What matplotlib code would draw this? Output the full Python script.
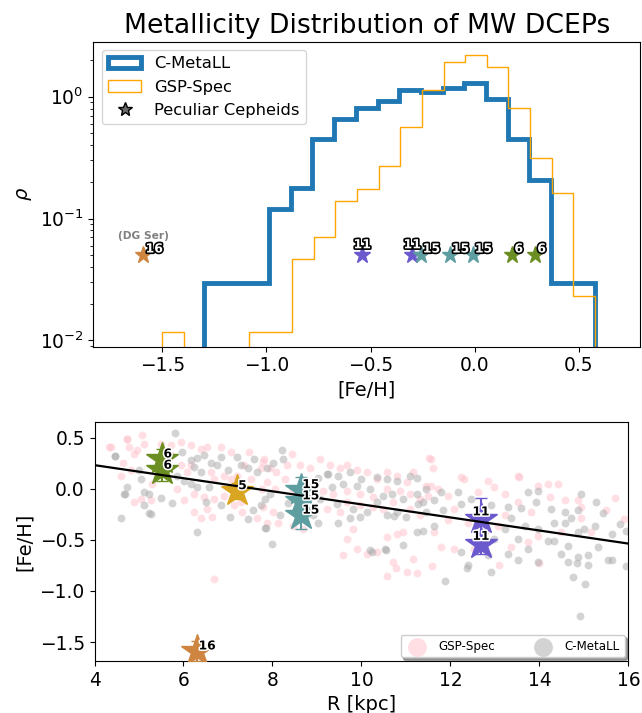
import numpy as np
import matplotlib
matplotlib.use("Agg")
import matplotlib.pyplot as plt
import matplotlib.patheffects as pe

# ---------------- data ----------------
# C-MetaLL histogram (counts per bin; density-normalised when drawn)
cm_range = (-1.30, 0.575)
cm_counts = [1, 1, 1, 4, 6, 15, 22, 27, 31, 38, 37, 40, 44, 32, 15, 7, 1, 1]
# GSP-Spec histogram
gsp_range = (-1.50, 0.577)
gsp_counts = [1, 0, 0, 0, 1, 1, 4, 6, 12, 15, 23, 48, 97, 165, 190, 150, 69, 27, 14, 2]

# Peculiar Cepheids
pec_labels = ['16', '11', '11', '15', '15', '15', '6', '6', '5']
pec_feh = [-1.59, -0.54, -0.30, -0.26, -0.12, -0.01, 0.18, 0.29, -0.02]
pec_R = [6.31, 12.69, 12.69, 8.64, 8.64, 8.64, 5.52, 5.52, 7.20]
pec_err = [0.10, 0.10, 0.21, 0.135, 0.10, 0.13, 0.10, 0.10, 0.08]
pec_colors = ['peru', 'slateblue', 'slateblue', 'cadetblue', 'cadetblue',
              'cadetblue', 'olivedrab', 'olivedrab', 'goldenrod']
pec_in_hist = [True, True, True, True, True, True, True, True, False]

# radial gradient fit
grad_slope = -0.064
grad_intercept = 0.488

# C-MetaLL sample (R [kpc], [Fe/H])
cm_R = [5.80, 4.45, 5.97, 6.16, 6.24, 6.31, 6.46, 6.39, 6.61, 6.76, 6.84, 6.99, 7.21, 7.29,
        7.44, 7.59, 7.66, 5.00, 5.04, 4.74, 4.66, 5.11, 5.23, 5.11, 5.23, 5.49, 5.74, 4.60,
        6.31, 6.31, 6.50, 6.57, 6.84, 7.05, 7.44, 7.57, 7.74, 7.83, 5.86, 6.01, 6.16,
        8.21, 8.24, 8.02, 7.87, 7.83, 7.94, 7.85, 7.98, 8.17, 9.03, 9.22, 9.48, 9.74, 10.00,
        10.34, 10.57, 10.79, 11.09, 11.24, 11.46, 9.33, 9.59, 9.89, 10.19, 10.49, 10.68, 10.94,
        11.24, 11.39, 9.07, 9.44, 9.82, 10.12, 10.34, 10.57, 10.79, 11.00, 11.28, 11.46, 9.03,
        9.48, 9.74, 9.97, 11.24, 11.39, 10.53, 10.19, 10.94, 8.92, 8.69,
        11.79, 11.64, 12.17, 12.24, 12.47, 12.92, 13.29, 13.59, 13.74, 13.97, 13.93, 14.27,
        14.57, 14.86, 14.94, 15.28, 11.64, 11.83, 13.22, 13.37, 13.52, 13.67, 13.97, 14.19,
        14.34, 14.57, 14.72, 14.86, 15.01, 15.24, 13.74, 14.34, 14.49, 14.64, 14.86, 15.09,
        15.31, 13.29, 12.84, 12.99, 12.24, 12.39, 13.52, 13.97, 14.64, 15.09,
        11.89, 12.38, 12.91, 14.75, 14.92, 15.03, 15.44, 15.54, 15.63, 15.63, 15.81, 15.95,
        15.95, 14.84, 4.46, 4.69, 5.26, 10.23, 10.55, 8.34, 9.26, 10.74]
cm_feh = [0.55, 0.32, 0.36, 0.28, 0.21, 0.30, 0.33, 0.16, 0.25, 0.23, 0.31, 0.18, 0.31, 0.23,
          0.20, 0.29, 0.16, 0.18, 0.10, 0.02, -0.05, -0.03, -0.05, -0.16, -0.24, -0.09, -0.14,
          -0.29, -0.42, 0.02, -0.13, 0.02, -0.16, -0.28, -0.30, -0.21, -0.16, -0.38, 0.13, 0.08,
          0.05,
          0.38, 0.29, 0.25, 0.20, -0.10, -0.05, -0.38, -0.54, -0.26, 0.11, 0.15, 0.13, 0.16,
          0.10, 0.12, 0.10, 0.08, 0.13, 0.11, 0.00, 0.02, 0.05, 0.03, 0.00, -0.07, -0.05, -0.10,
          -0.05, -0.13, -0.10, -0.15, -0.20, -0.23, -0.13, -0.26, -0.23, -0.28, -0.15, -0.23,
          -0.33, -0.33, -0.29, -0.28, -0.42, -0.41, -0.59, -0.60, -0.55, -0.26, -0.10,
          -0.03, -0.11, -0.03, -0.15, -0.10, -0.16, -0.18, -0.19, -0.03, -0.02, -0.13, -0.20,
          -0.23, -0.21, -0.05, -0.13, -0.36, -0.21, -0.39, -0.29, -0.49, -0.36, -0.39, -0.51,
          -0.33, -0.33, -0.29, -0.42, -0.39, -0.36, -0.59, -0.51, -0.64, -0.56, -0.67, -0.65,
          -0.57, -0.64, -0.65, -0.49, -0.62, -0.75, -0.70, -0.72, -0.72, -0.75,
          -0.90, -0.78, -0.81, -0.86, -1.25, -0.93, -0.24, -0.70, -0.70, -0.44, -0.34, -0.76,
          -0.41, -0.73, 0.32, -0.05, -0.25, -0.62, -0.60, -0.14, 0.15, -0.27]

# GSP-Spec sample (R [kpc], [Fe/H])
gsp_R = [4.33, 4.74, 5.11, 4.78, 4.89, 4.96, 5.49, 5.71, 6.16, 6.39, 6.54, 6.84, 7.06, 7.47,
         5.94, 5.71, 5.94, 6.09, 6.16, 6.61, 6.69, 6.91, 7.06, 7.21, 7.36, 7.51, 7.74, 7.81,
         5.26, 5.49, 5.30, 6.01, 6.24, 6.39, 6.46, 6.54, 6.65, 6.69, 6.91, 7.14, 7.29, 7.32,
         7.66, 6.24, 5.86, 4.59, 4.81, 4.89, 5.04,
         7.79, 7.94, 8.09, 8.32, 8.43, 8.62, 8.84, 9.07, 9.29, 9.52, 9.67, 9.89, 10.12, 10.34,
         10.57, 10.79, 11.02, 11.16, 11.46, 7.87, 8.06, 8.28, 8.47, 8.92, 9.14, 9.37, 9.67,
         9.97, 10.27, 10.57, 10.87, 11.09, 11.31, 11.50, 8.02, 8.13, 8.47, 8.69, 8.92, 9.22,
         9.52, 9.67, 9.97, 10.27, 10.49, 10.72, 11.09, 11.31, 7.87, 9.67, 9.89, 10.12, 10.34,
         10.57, 10.79, 10.94, 10.72, 11.16, 9.59, 9.82, 7.79, 7.76,
         11.57, 11.61, 12.24, 12.84, 13.52, 14.19, 13.97, 14.57, 14.86, 11.72, 11.94, 12.09,
         12.62, 12.99, 13.22, 13.52, 13.82, 13.22, 13.07, 12.77, 12.39, 11.94, 11.64, 11.79,
         12.09, 12.54, 13.37, 13.74, 13.97, 14.49, 14.94, 15.16, 11.57,
         4.37, 4.74, 5.06, 4.65, 6.68, 10.58, 10.77, 11.03, 11.25, 11.59, 13.09, 13.99,
         11.52, 12.31, 13.55, 14.43, 14.24, 14.94, 15.70, 15.50, 15.90]
gsp_feh = [0.41, 0.49, 0.44, 0.41, 0.34, 0.38, 0.44, 0.43, 0.43, 0.39, 0.41, 0.41, 0.36, 0.36,
           0.46, 0.33, 0.23, 0.16, 0.23, 0.16, 0.10, 0.13, 0.10, 0.13, 0.23, 0.10, 0.20, 0.29,
           -0.11, 0.16, 0.05, -0.11, -0.23, -0.29, -0.08, -0.20, -0.28, -0.10, -0.07, -0.16,
           -0.13, -0.23, -0.29, -0.05, 0.00, 0.13, 0.18, -0.13, -0.10,
           0.26, 0.20, 0.16, 0.23, 0.34, 0.23, 0.20, 0.29, 0.23, 0.20, 0.23, 0.18, 0.16, 0.10,
           0.16, 0.13, 0.07, 0.16, 0.03, 0.07, 0.00, 0.10, 0.00, 0.03, -0.02, -0.05, -0.02,
           -0.05, -0.08, 0.00, -0.02, -0.05, -0.10, -0.07, -0.23, -0.33, -0.36, -0.39, -0.20,
           -0.20, -0.23, -0.13, -0.16, -0.18, -0.20, -0.13, -0.20, -0.26, -0.33, -0.49, -0.59,
           -0.64, -0.62, -0.47, -0.44, -0.42, -0.72, -0.69, -0.65, -0.39, -0.18, 0.00,
           0.29, 0.20, 0.12, 0.08, 0.13, 0.05, 0.03, -0.11, -0.11, 0.00, -0.07, -0.20,
           -0.03, 0.02, -0.05, -0.13, -0.23, -0.26, -0.36, -0.42, -0.33, -0.31, -0.42, -0.57,
           -0.59, -0.59, -0.57, -0.52, -0.46, -0.42, -0.29, -0.42, 0.03,
           0.41, 0.49, 0.53, 0.25, -0.88, -0.85, -0.78, -0.81, -0.82, -0.76, -0.75, -0.73,
           0.30, 0.10, 0.12, 0.05, -0.08, -0.18, -0.09, -0.21, -0.30]

# ---------------- figure ----------------
fig = plt.figure(figsize=(6.42, 7.13), dpi=100)
ax1 = fig.add_axes([0.1456, 0.514, 0.852, 0.4275])
ax2 = fig.add_axes([0.1472, 0.0729, 0.8315, 0.3356])

# top: histograms
cm_edges = np.linspace(cm_range[0], cm_range[1], len(cm_counts) + 1)
gsp_edges = np.linspace(gsp_range[0], gsp_range[1], len(gsp_counts) + 1)
cm_centers = 0.5 * (cm_edges[1:] + cm_edges[:-1])
gsp_centers = 0.5 * (gsp_edges[1:] + gsp_edges[:-1])

ax1.hist(cm_centers, bins=cm_edges, weights=cm_counts, density=True,
         histtype='step', color='#1f77b4', lw=3.5, label='C-MetaLL')
ax1.hist(gsp_centers, bins=gsp_edges, weights=gsp_counts, density=True,
         histtype='step', color='orange', lw=1.0, label='GSP-Spec')
ax1.set_yscale('log')

star_rho = 0.05
top_fx = [pe.withStroke(linewidth=2.4, foreground='black')]
for lab, f, c, show in zip(pec_labels, pec_feh, pec_colors, pec_in_hist):
    if not show:
        continue
    ax1.plot(f, star_rho, '*', color=c, ms=12.5, zorder=5)
    if lab == '11':
        off, ha = (0, 7.5), 'center'
    else:
        off, ha = (1.5, 4.5), 'left'
    ax1.annotate(lab, (f, star_rho), xytext=off, textcoords='offset points',
                 ha=ha, va='center', fontsize=9, fontweight='bold', color='white',
                 path_effects=top_fx, zorder=6)
ax1.annotate('(DG Ser)', (pec_feh[0], star_rho), xytext=(0, 13.5), textcoords='offset points',
             ha='center', va='center', fontsize=7.7, fontweight='bold', color='gray')

ax1.plot([], [], '*', color='dimgray', mec='black', ms=10, label='Peculiar Cepheids')
ax1.set_xlim(-1.83, 0.795)
ax1.set_ylim(0.0089, 2.83)
ax1.set_xlabel('[Fe/H]', fontsize=14)
ax1.set_ylabel(r'$\rho$', fontsize=14)
ax1.set_title('Metallicity Distribution of MW DCEPs', fontsize=19.2)
ax1.tick_params(labelsize=13.4)
ax1.legend(loc='upper left', fontsize=11.8)

# bottom: gradient
ax2.scatter(gsp_R, gsp_feh, s=32, color='pink', alpha=0.5, lw=0, label='GSP-Spec', zorder=1)
ax2.scatter(cm_R, cm_feh, s=32, color='darkgray', alpha=0.5, lw=0, label='C-MetaLL', zorder=2)

bot_fx = [pe.withStroke(linewidth=2.2, foreground='white')]
for lab, r, f, e, c in zip(pec_labels, pec_R, pec_feh, pec_err, pec_colors):
    ax2.errorbar(r, f, yerr=e, fmt='*', ms=24, color=c, capsize=4, elinewidth=1.5, zorder=3)
    if lab == '11':
        off, ha = (0, 5.5), 'center'
    else:
        off, ha = (1.0, 3.8), 'left'
    ax2.annotate(lab, (r, f), xytext=off, textcoords='offset points', ha=ha, va='center',
                 fontsize=8.8, fontweight='bold', color='black', path_effects=bot_fx, zorder=6)

ax2.set_xlim(4, 16)
ax2.set_ylim(-1.686, 0.657)
xl = np.array(ax2.get_xlim())
ax2.plot(xl, grad_intercept + grad_slope * xl, color='black', lw=1.6, zorder=4)
ax2.set_xlabel('R [kpc]', fontsize=14)
ax2.set_ylabel('[Fe/H]', fontsize=14)
ax2.tick_params(labelsize=13.4)
ax2.legend(loc='lower right', ncol=2, fontsize=8.6, markerscale=2.4, shadow=True,
           borderaxespad=0.3, columnspacing=3.0)

fig.savefig('out.png', dpi=100)
